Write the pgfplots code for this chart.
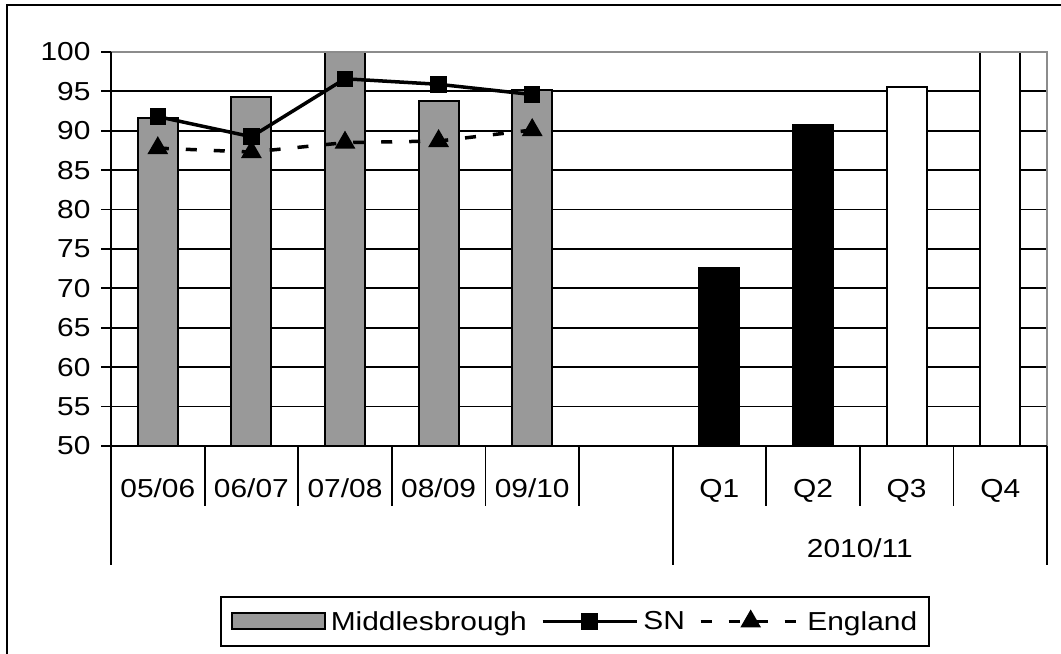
\documentclass[border=0pt]{standalone}
\usepackage{fontspec}
\setmainfont[FakeStretch=1.15]{Liberation Sans}
\usepackage{pgfplots}
\pgfplotsset{compat=1.18}
\definecolor{barGray}{RGB}{153,153,153}
\definecolor{frameGray}{RGB}{140,140,140}
\newcommand{\chartfont}{\fontsize{26bp}{31bp}\selectfont}
\pgfplotsset{
  barleg/.style={legend image code/.code={\draw[fill=barGray, draw=black, line width=2bp] (0bp,-8bp) rectangle (93bp,8bp);}},
  lineleg/.style={legend image code/.code={\draw[mark repeat=2,mark phase=2,##1] plot coordinates {(0bp,0bp) (#1/2,0bp) (#1,0bp)};}},
}
\tikzset{catsep/.style={black, line width=1.8bp}}
\begin{document}
\begin{tikzpicture}
\useasboundingbox (0bp,0bp) rectangle (1061bp,654bp);
\draw[line width=2bp] (7bp,-20bp) -- (7bp,649bp) -- (1090bp,649bp);
\begin{axis}[
  at={(111bp,208bp)}, anchor=south west,
  scale only axis, width=936bp, height=394bp,
  xmin=-0.5, xmax=9.5, ymin=50, ymax=100,
  ytick={50,55,...,100},
  xtick={0,...,9},
  xticklabels={05/06,06/07,07/08,08/09,09/10,,Q1,Q2,Q3,Q4},
  xtick style={draw=none},
  xticklabel style={anchor=base, yshift=-41bp},
  ytick pos=left,
  tick align=outside,
  major tick length=10bp,
  ytick style={black, line width=1.8bp},
  yticklabel style={anchor=east, xshift=-7bp},
  ticklabel style={font=\chartfont},
  /pgf/number format/assume math mode=true,
  ymajorgrids,
  grid style={black, line width=1.8bp},
  axis line style={draw=none},
  clip mode=individual,
  ybar, bar width=40bp, bar shift=0pt,
  legend columns=-1,
  legend style={at={(0.4957,-0.4454)}, anchor=center, draw=black, line width=2bp,
    font=\chartfont, inner xsep=10bp, inner ysep=12bp,
    /tikz/every odd column/.append style={column sep=3bp},
    /tikz/every even column/.append style={column sep=12bp}},
]
\addplot[fill=barGray, draw=black, line width=2bp, barleg]
  coordinates {(0,91.6) (1,94.3) (2,100) (3,93.8) (4,95.2)};
\addlegendentry{Middlesbrough}
\addplot[fill=black, draw=black, line width=2bp, forget plot]
  coordinates {(6,72.6) (7,90.7)};
\addplot[fill=white, draw=black, line width=2bp, forget plot]
  coordinates {(8,95.5) (9,100)};
\addplot[sharp plot, black, line width=3.5bp, mark=square*, mark size=6.5bp, lineleg=94bp]
  coordinates {(0,91.8) (1,89.25) (2,96.6) (3,95.9) (4,94.6)};
\addlegendentry{SN}
\addplot[sharp plot, black, line width=3.5bp, dash pattern=on 11bp off 17bp,
  mark=triangle*, mark size=8.5bp, mark options={solid}, lineleg=100bp]
  coordinates {(0,87.8) (1,87.3) (2,88.5) (3,88.7) (4,90.1)};
\addlegendentry{England}
% plot frame: grey top and right, black left and bottom
\draw[frameGray, line width=1.8bp] (rel axis cs:0,1) -- (rel axis cs:1,1) -- (rel axis cs:1,0);
\draw[black, line width=2bp] (rel axis cs:0,1) -- (rel axis cs:0,0) -- (rel axis cs:1,0);
% category separators
\draw[catsep] (axis cs:0.5,50) -- ++(0bp,-60bp);
\draw[catsep] (axis cs:1.5,50) -- ++(0bp,-60bp);
\draw[catsep] (axis cs:2.5,50) -- ++(0bp,-60bp);
\draw[catsep] (axis cs:3.5,50) -- ++(0bp,-60bp);
\draw[catsep] (axis cs:4.5,50) -- ++(0bp,-60bp);
\draw[catsep] (axis cs:6.5,50) -- ++(0bp,-60bp);
\draw[catsep] (axis cs:7.5,50) -- ++(0bp,-60bp);
\draw[catsep] (axis cs:8.5,50) -- ++(0bp,-60bp);
\draw[catsep] (axis cs:-0.5,50) -- ++(0bp,-119bp);
\draw[catsep] (axis cs:5.5,50) -- ++(0bp,-119bp);
\draw[catsep] (axis cs:9.5,50) -- ++(0bp,-119bp);
\node[font=\chartfont, anchor=base] at ([yshift=-111bp]axis cs:7.5,50) {2010/11};
\end{axis}
\end{tikzpicture}
\end{document}
